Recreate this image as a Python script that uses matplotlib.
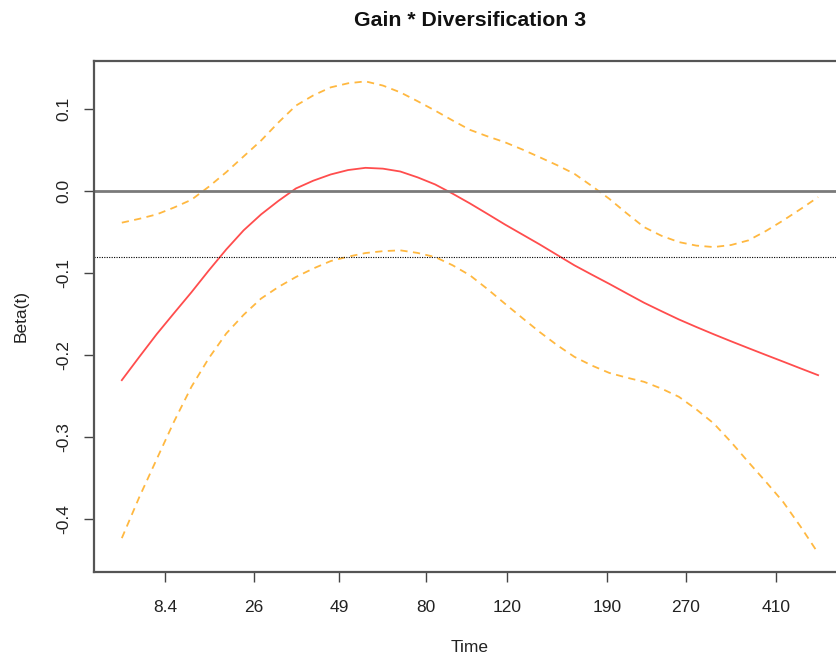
import matplotlib.pyplot as plt

# smoothed beta(t) and its confidence band, on the transformed time axis (0..1)
t_pos = [0.000, 0.025, 0.050, 0.075, 0.100, 0.125, 0.150, 0.175, 0.200,
         0.225, 0.250, 0.275, 0.300, 0.325, 0.350, 0.375, 0.400, 0.425,
         0.450, 0.475, 0.500, 0.525, 0.550, 0.575, 0.600, 0.625, 0.650,
         0.675, 0.700, 0.725, 0.750, 0.775, 0.800, 0.825, 0.850, 0.875,
         0.900, 0.925, 0.950, 0.975, 1.000]
beta_fit = [-0.2309, -0.2026, -0.1748, -0.1490, -0.1235, -0.0968, -0.0712,
            -0.0478, -0.0284, -0.0118, 0.0033, 0.0128, 0.0204, 0.0258,
            0.0285, 0.0275, 0.0240, 0.0168, 0.0082, -0.0030, -0.0150,
            -0.0277, -0.0406, -0.0528, -0.0650, -0.0778, -0.0906, -0.1020,
            -0.1132, -0.1248, -0.1363, -0.1466, -0.1567, -0.1659, -0.1748,
            -0.1834, -0.1918, -0.2001, -0.2083, -0.2166, -0.2248]
beta_upper = [-0.0385, -0.0338, -0.0284, -0.0200, -0.0105, 0.0055, 0.0232,
              0.0425, 0.0618, 0.0840, 0.1045, 0.1170, 0.1268, 0.1318,
              0.1341, 0.1290, 0.1207, 0.1098, 0.0984, 0.0864, 0.0749,
              0.0670, 0.0598, 0.0510, 0.0415, 0.0318, 0.0212, 0.0063,
              -0.0093, -0.0270, -0.0439, -0.0545, -0.0622, -0.0665, -0.0683,
              -0.0658, -0.0601, -0.0487, -0.0357, -0.0218, -0.0073]
beta_lower = [-0.4239, -0.3740, -0.3276, -0.2815, -0.2390, -0.2040, -0.1739,
              -0.1510, -0.1312, -0.1170, -0.1049, -0.0945, -0.0854, -0.0800,
              -0.0756, -0.0733, -0.0723, -0.0755, -0.0805, -0.0905, -0.1028,
              -0.1195, -0.1373, -0.1548, -0.1720, -0.1880, -0.2024, -0.2130,
              -0.2220, -0.2278, -0.2329, -0.2412, -0.2512, -0.2665, -0.2837,
              -0.3065, -0.3311, -0.3550, -0.3799, -0.4100, -0.4422]
coef = -0.0805  # overall cox coefficient

# time tick labels and where they fall on the transformed axis
tick_pos = [0.062, 0.190, 0.312, 0.437, 0.553, 0.697, 0.810, 0.940]
tick_lab = ['8.4', '26', '49', '80', '120', '190', '270', '410']
y_ticks = [0.1, 0.0, -0.1, -0.2, -0.3, -0.4]

plt.rcParams['font.family'] = ['Liberation Sans', 'DejaVu Sans']

fig = plt.figure(figsize=(8.36, 6.56), dpi=100)
ax = fig.add_axes([0.1124, 0.128, 0.8995, 0.7795])

ax.plot(t_pos, beta_fit, color='#ff4d4d', lw=1.3)
ax.plot(t_pos, beta_upper, color='#ffb840', lw=1.3, ls=(0, (4, 3)))
ax.plot(t_pos, beta_lower, color='#ffb840', lw=1.3, ls=(0, (4, 3)))
ax.axhline(0, color='#7a7a7a', lw=2)
ax.axhline(coef, color='black', lw=0.8, ls=(0, (1, 1.2)))

ax.set_xlim(-0.04, 1.04)
ax.set_ylim(-0.4653, 0.1594)

ax.set_xticks(tick_pos)
ax.set_xticklabels(tick_lab)
ax.set_yticks(y_ticks)
ax.set_yticklabels([f'{v:.1f}' for v in y_ticks], rotation=90, va='center')
ax.tick_params(axis='x', pad=13)
ax.tick_params(axis='y', pad=9)
ax.tick_params(axis='both', length=7, width=1, color='#444444',
               labelsize=12.5, labelcolor='#222222')

for s in ax.spines.values():
    s.set_color('#555555')
    s.set_linewidth(1.6)

ax.set_xlabel('Time', fontsize=12.5, labelpad=18, color='#222222')
ax.set_ylabel('Beta(t)', fontsize=12.5, labelpad=20, color='#222222')
ax.set_title('Gain * Diversification 3', fontsize=15.3, fontweight='bold',
             pad=25, color='#111111')

fig.savefig('out.png', dpi=100)
